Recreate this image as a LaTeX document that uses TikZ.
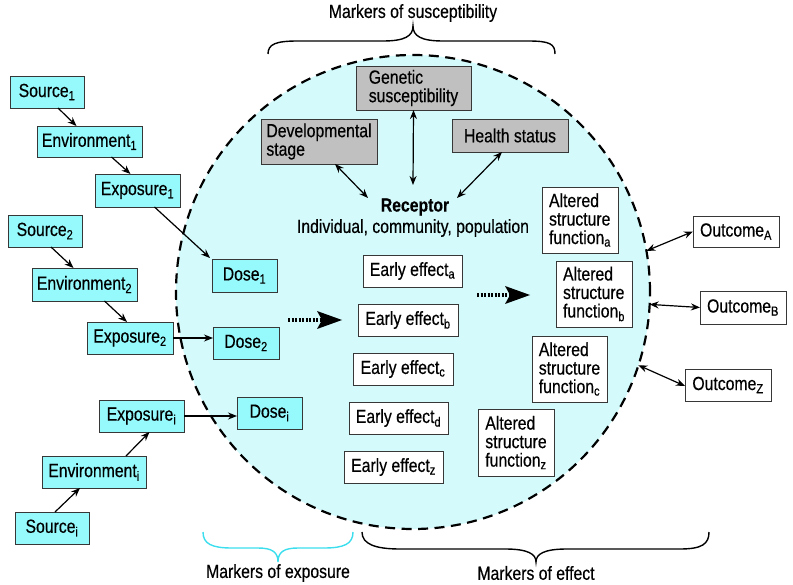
\documentclass[tikz,border=0pt]{standalone}
\usepackage{fontspec}
\setmainfont{Liberation Sans}[FakeStretch=0.83,FakeBold=0.4]
\usetikzlibrary{arrows.meta}
\definecolor{boxcyan}{RGB}{150,250,252}
\definecolor{circcyan}{RGB}{212,250,252}
\definecolor{boxgray}{RGB}{192,192,192}
\definecolor{bracecyan}{RGB}{60,222,238}
\definecolor{edge}{RGB}{55,55,55}
\tikzset{
  base/.style={draw=edge, line width=0.9pt, inner sep=0pt, outer sep=0pt},
  cbox/.style={base, fill=boxcyan},
  wbox/.style={base, fill=white},
  abox/.style={base, fill=white, align=left, minimum width=76, minimum height=66},
  gbox/.style={base, fill=boxgray, align=left},
  lbl/.style={inner sep=0pt},
  arr/.style={-{Stealth[length=9pt,width=7pt]}, line width=1.2pt},
  dbl/.style={{Stealth[length=9pt,width=7pt]}-{Stealth[length=9pt,width=7pt]}, line width=1.2pt},
  bracepath/.style={line width=1.4pt},
  bigarrow/.style={fill=black}
}
\begin{document}
\begin{tikzpicture}[x=1pt,y=-1pt,font=\fontsize{19}{18.5}\selectfont]
\useasboundingbox (0,0) rectangle (793,585);

% receptor circle
\node[circle, draw=black, fill=circcyan, line width=2.2pt, dash pattern=on 10pt off 6.5pt,
      minimum size=474, inner sep=0pt, outer sep=0pt] (circ) at (413,292) {};

% braces
\draw[bracepath] (268,54) .. controls (268,44) and (276,41) .. (298,41) -- (383,41)
  .. controls (405,41) and (413,36) .. (413,26) .. controls (413,36) and (421,41) .. (443,41)
  -- (528,41) .. controls (550,41) and (555,44) .. (555,54);
\draw[bracepath, draw=bracecyan] (203,532) .. controls (203,544) and (212,548) .. (232,548) -- (258,548)
  .. controls (272,548) and (278,552) .. (278,562) .. controls (278,552) and (284,548) .. (298,548)
  -- (324,548) .. controls (344,548) and (353,544) .. (353,532);
\draw[bracepath] (362,532) .. controls (362,544) and (375,549) .. (400,549) -- (505,549)
  .. controls (528,549) and (536,554) .. (536,562) .. controls (536,554) and (544,549) .. (567,549)
  -- (680,549) .. controls (702,549) and (709,544) .. (709,532);

\node[lbl] (msus) at (413,13) {Markers of susceptibility};
\node[lbl] (mexp) at (278,573) {Markers of exposure};
\node[lbl] (meff) at (536,573) {Markers of effect};

% left chains
\node[cbox, minimum width=74, minimum height=32] (src1) at (47,92) {Source\textsubscript{1}};
\node[cbox, minimum width=105, minimum height=31] (env1) at (89.5,141.5) {Environment\textsubscript{1}};
\node[cbox, minimum width=85, minimum height=33] (exp1) at (137.5,190.5) {Exposure\textsubscript{1}};
\node[cbox, minimum width=74, minimum height=32] (src2) at (45,231) {Source\textsubscript{2}};
\node[cbox, minimum width=105, minimum height=33] (env2) at (84.5,284.5) {Environment\textsubscript{2}};
\node[cbox, minimum width=86, minimum height=32] (exp2) at (130,338) {Exposure\textsubscript{2}};
\node[cbox, minimum width=85, minimum height=32] (expi) at (141.5,416) {Exposure\textsubscript{i}};
\node[cbox, minimum width=104, minimum height=32] (envi) at (94,472) {Environment\textsubscript{i}};
\node[cbox, minimum width=74, minimum height=32] (srci) at (52,528) {Source\textsubscript{i}};

\node[cbox, minimum width=65, minimum height=33] (dose1) at (244.5,275.5) {Dose\textsubscript{1}};
\node[cbox, minimum width=66, minimum height=32] (dose2) at (246,343) {Dose\textsubscript{2}};
\node[cbox, minimum width=65, minimum height=32] (dosei) at (269.5,413) {Dose\textsubscript{i}};

\draw[arr] ([xshift=11pt]src1.south) -- ([xshift=-13pt]env1.north);
\draw[arr] ([xshift=22pt]env1.south) -- ([xshift=-7pt]exp1.north);
\draw[arr] ([xshift=17pt]exp1.south) -- ([shift={(-2,-1)}]dose1.north west);
\draw[arr] ([xshift=6pt]src2.south) -- ([xshift=-11pt]env2.north);
\draw[arr] ([xshift=20pt]env2.south) -- ([xshift=-3pt]exp2.north);
\draw[arr] (exp2.east) -- (exp2.east -| dose2.west);
\draw[arr] ([xshift=3pt]srci.north) -- ([xshift=-14pt]envi.south);
\draw[arr] ([xshift=32pt]envi.north) -- ([xshift=8pt]expi.south);
\draw[arr] (expi.east) -- (expi.east -| dosei.west);

% susceptibility
\node[gbox, minimum width=115, minimum height=44] (gen) at (413.5,88) {Genetic\\susceptibility};
\node[gbox, minimum width=116, minimum height=45] (dev) at (319,141.5) {Developmental\\stage};
\node[gbox, minimum width=116, minimum height=33] (health) at (510,135.5) {Health status};
\node[lbl] (rec) at (415,207) {\textbf{Receptor}};
\node[lbl] (recsub) at (413,228) {Individual, community, population};

\draw[dbl] ([xshift=16pt]dev.south) -- ([shift={(-47,-9)}]rec.center);
\draw[dbl] (gen.south) -- ([shift={(-2,-22)}]rec.center);
\draw[dbl] ([xshift=-8pt]health.south) -- ([shift={(42,-9)}]rec.center);

% early effects
\node[wbox, minimum width=99, minimum height=32] (eea) at (412.5,271) {Early effect\textsubscript{a}};
\node[wbox, minimum width=100, minimum height=32] (eeb) at (408,320) {Early effect\textsubscript{b}};
\node[wbox, minimum width=100, minimum height=32] (eec) at (403,369) {Early effect\textsubscript{c}};
\node[wbox, minimum width=99, minimum height=32] (eed) at (398.5,418) {Early effect\textsubscript{d}};
\node[wbox, minimum width=99, minimum height=32] (eez) at (393.5,467) {Early effect\textsubscript{z}};

% altered structure
\node[abox] (asa) at (580,220) {Altered\\structure\\function\textsubscript{a}};
\node[abox] (asb) at (594,294) {Altered\\structure\\function\textsubscript{b}};
\node[abox, minimum width=75] (asc) at (569.5,369) {Altered\\structure\\function\textsubscript{c}};
\node[abox, minimum height=67] (asz) at (516,442.5) {Altered\\structure\\function\textsubscript{z}};

% outcomes
\node[wbox, minimum width=86, minimum height=31] (outa) at (736,231.5) {Outcome\textsubscript{A}};
\node[wbox, minimum width=86, minimum height=33] (outb) at (743,307.5) {Outcome\textsubscript{B}};
\node[wbox, minimum width=86, minimum height=32] (outz) at (728,385) {Outcome\textsubscript{Z}};

\draw[dbl] (circ.10) -- (outa.west);
\draw[dbl] (circ.-3.4) -- (outb.west);
\draw[dbl] (circ.-18.2) -- ([yshift=-1pt]outz.west);

% big dotted arrows
\coordinate (p1s) at (288,320);
\coordinate (p1t) at (342,320);
\draw[line width=4pt, dash pattern=on 2.2pt off 1.3pt] (p1s) -- ([xshift=-20pt]p1t);
\fill[bigarrow] (p1t) -- ++(-25,-9) -- ++(5,9) -- ++(-5,9) -- cycle;
\coordinate (p2s) at (477,295);
\coordinate (p2t) at (530,295);
\draw[line width=4pt, dash pattern=on 2.2pt off 1.3pt] (p2s) -- ([xshift=-20pt]p2t);
\fill[bigarrow] (p2t) -- ++(-25,-9) -- ++(5,9) -- ++(-5,9) -- cycle;
\end{tikzpicture}
\end{document}
